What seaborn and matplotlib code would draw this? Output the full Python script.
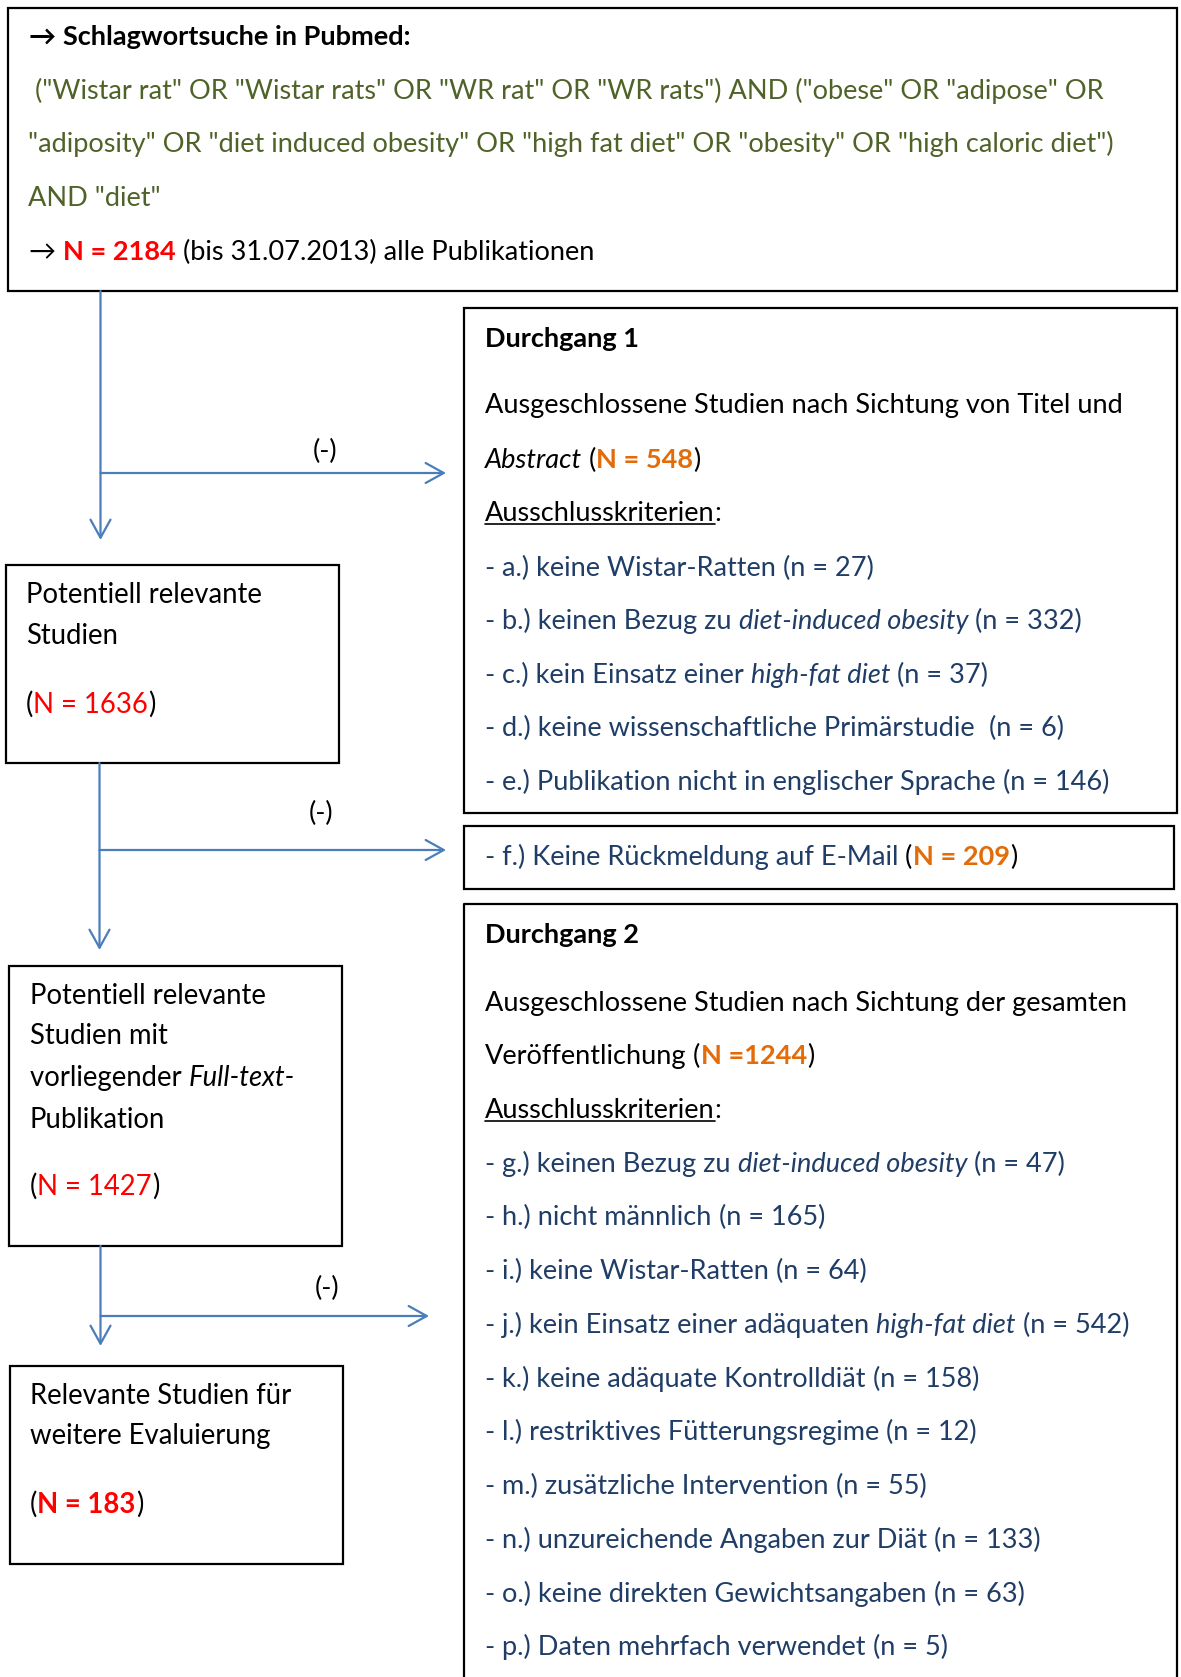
import matplotlib
matplotlib.use('Agg')
import matplotlib.pyplot as plt
import seaborn as sns
from matplotlib.patches import Rectangle

# Zahlen aus dem Flussdiagramm
n_total = 2184
n_excl_1 = 548
n_after_1 = 1636
n_no_mail = 209
n_fulltext = 1427
n_excl_2 = 1244
n_final = 183

# Suchbegriffe (Pubmed)
search_lines = [
    ' ("Wistar rat" OR "Wistar rats" OR "WR rat" OR "WR rats") AND ("obese" OR "adipose" OR',
    '"adiposity" OR "diet induced obesity" OR "high fat diet" OR "obesity" OR "high caloric diet")',
    'AND "diet"',
]

# Ausschlusskriterien Durchgang 1 (_..._ = kursiv)
crit1_labels = ['a.) keine Wistar-Ratten',
                'b.) keinen Bezug zu _diet-induced obesity_',
                'c.) kein Einsatz einer _high-fat diet_',
                'd.) keine wissenschaftliche Primärstudie ',
                'e.) Publikation nicht in englischer Sprache']
crit1_n = [27, 332, 37, 6, 146]

# Ausschlusskriterien Durchgang 2
crit2_labels = ['g.) keinen Bezug zu _diet-induced obesity_',
                'h.) nicht männlich',
                'i.) keine Wistar-Ratten',
                'j.) kein Einsatz einer adäquaten _high-fat diet_',
                'k.) keine adäquate Kontrolldiät',
                'l.) restriktives Fütterungsregime',
                'm.) zusätzliche Intervention',
                'n.) unzureichende Angaben zur Diät',
                'o.) keine direkten Gewichtsangaben',
                'p.) Daten mehrfach verwendet']
crit2_n = [47, 165, 64, 542, 158, 12, 55, 133, 63, 5]

# Farben
BLACK = '#000000'
GREEN = '#4F6228'
RED = '#FF0000'
ORANGE = '#E36C09'
NAVY = '#1F3D66'
ARROW = '#4A7EBB'

sns.set_theme(style='white')
plt.rcParams['font.family'] = ['Lato', 'DejaVu Sans']
FS = 19.5
FS_LEFT = 19.8
BASE = 9  # Abstand Zeilenmitte -> Grundlinie (px)

fig = plt.figure(figsize=(11.81, 16.77), dpi=100)
ax = fig.add_axes([0, 0, 1, 1])
ax.set_xlim(0, 1181)
ax.set_ylim(1677, 0)
ax.axis('off')
renderer = fig.canvas.get_renderer()
inv = ax.transData.inverted()


def rich_line(x, y, pieces, size=FS):
    # Textstücke auf gemeinsamer Grundlinie nebeneinander setzen
    arts = []
    for txt, color, weight, style in pieces:
        t = ax.text(x, y + BASE, txt, ha='left', va='baseline', color=color,
                    fontweight=weight, fontstyle=style, fontsize=size)
        bb = t.get_window_extent(renderer)
        x = inv.transform((bb.x1, bb.y0))[0]
        arts.append(t)
    return arts


def crit_pieces(label, n):
    pieces = [('- ', NAVY, 'normal', 'normal')]
    for i, part in enumerate(label.split('_')):
        if part:
            pieces.append((part, NAVY, 'normal', 'italic' if i % 2 else 'normal'))
    pieces.append((f' (n = {n})', NAVY, 'normal', 'normal'))
    return pieces


def box(x0, y0, x1, y1, bottom=True):
    if bottom:
        ax.add_patch(Rectangle((x0, y0), x1 - x0, y1 - y0, fill=False,
                               edgecolor='black', lw=1.6))
    else:
        ax.plot([x0, x0, x1, x1], [y1, y0, y0, y1], color='black', lw=1.6)


def arrow(x0, y0, x1, y1):
    ax.annotate('', xy=(x1, y1), xytext=(x0, y0),
                arrowprops=dict(arrowstyle='->,head_length=0.65,head_width=0.36',
                                color=ARROW, lw=1.6, shrinkA=0, shrinkB=0,
                                mutation_scale=20))


# Oberer Kasten: Schlagwortsuche
box(7.5, 7.5, 1177, 291)
rich_line(29, 36, [('→ ', BLACK, 'bold', 'normal'),
                   ('Schlagwortsuche in Pubmed:', BLACK, 'bold', 'normal')])
for y, line in zip([90, 143, 197], search_lines):
    rich_line(28, y, [(line, GREEN, 'normal', 'normal')])
rich_line(29, 251, [('→ ', BLACK, 'normal', 'normal'),
                    (f'N = {n_total}', RED, 'bold', 'normal'),
                    (' (bis 31.07.2013) alle Publikationen', BLACK, 'normal', 'normal')])

# Linke Kästen
box(5.5, 565, 339, 763)
rich_line(26, 594, [('Potentiell relevante', BLACK, 'normal', 'normal')], FS_LEFT)
rich_line(26, 635, [('Studien', BLACK, 'normal', 'normal')], FS_LEFT)
rich_line(26, 704, [('(', BLACK, 'normal', 'normal'),
                    (f'N = {n_after_1}', RED, 'normal', 'normal'),
                    (')', BLACK, 'normal', 'normal')], FS_LEFT)

box(8.5, 966, 342, 1246)
rich_line(30, 995, [('Potentiell relevante', BLACK, 'normal', 'normal')], FS_LEFT)
rich_line(30, 1035, [('Studien mit', BLACK, 'normal', 'normal')], FS_LEFT)
rich_line(30, 1077, [('vorliegender ', BLACK, 'normal', 'normal'),
                     ('Full-text-', BLACK, 'normal', 'italic')], FS_LEFT)
rich_line(30, 1119, [('Publikation', BLACK, 'normal', 'normal')], FS_LEFT)
rich_line(30, 1186, [('(', BLACK, 'normal', 'normal'),
                     (f'N = {n_fulltext}', RED, 'normal', 'normal'),
                     (')', BLACK, 'normal', 'normal')], FS_LEFT)

box(9.5, 1366, 343, 1564)
rich_line(30, 1395, [('Relevante Studien für', BLACK, 'normal', 'normal')], FS_LEFT)
rich_line(30, 1435, [('weitere Evaluierung', BLACK, 'normal', 'normal')], FS_LEFT)
rich_line(30, 1504, [('(', BLACK, 'normal', 'normal'),
                     (f'N = {n_final}', RED, 'bold', 'normal'),
                     (')', BLACK, 'normal', 'normal')], FS_LEFT)

# Pfeile
arrow(100.5, 291, 100.5, 540)
arrow(100.5, 473, 446, 473)
arrow(99.5, 763, 99.5, 950)
arrow(99.5, 850, 446, 850)
arrow(100.5, 1246, 100.5, 1346)
arrow(100.5, 1316, 429, 1316)
for x, y in [(325, 451), (321, 813), (327, 1288)]:
    ax.text(x, y, '(-)', ha='center', va='center', fontsize=FS, color=BLACK)

underlined = []

# Rechter Kasten: Durchgang 1
box(464, 308, 1177, 813)
rich_line(485, 338, [('Durchgang 1', BLACK, 'bold', 'normal')])
rich_line(485, 404, [('Ausgeschlossene Studien nach Sichtung von Titel und', BLACK, 'normal', 'normal')])
rich_line(485, 459, [('Abstract', BLACK, 'normal', 'italic'),
                     (' (', BLACK, 'normal', 'normal'),
                     (f'N = {n_excl_1}', ORANGE, 'bold', 'normal'),
                     (')', BLACK, 'normal', 'normal')])
underlined.append(rich_line(485, 512, [('Ausschlusskriterien', BLACK, 'normal', 'normal'),
                                       (':', BLACK, 'normal', 'normal')])[0])
for y, lab, n in zip([567, 620, 674, 727, 781], crit1_labels, crit1_n):
    rich_line(485, y, crit_pieces(lab, n))

# Kasten f.)
box(464, 826, 1174, 889)
rich_line(485, 856, [('- f.) Keine Rückmeldung auf E-Mail', NAVY, 'normal', 'normal'),
                     (' (', BLACK, 'normal', 'normal'),
                     (f'N = {n_no_mail}', ORANGE, 'bold', 'normal'),
                     (')', BLACK, 'normal', 'normal')])

# Rechter Kasten: Durchgang 2 (unten abgeschnitten)
box(464, 904, 1177, 1690, bottom=False)
rich_line(485, 934, [('Durchgang 2', BLACK, 'bold', 'normal')])
rich_line(485, 1002, [('Ausgeschlossene Studien nach Sichtung der gesamten', BLACK, 'normal', 'normal')])
rich_line(485, 1055, [('Veröffentlichung', BLACK, 'normal', 'normal'),
                      (' (', BLACK, 'normal', 'normal'),
                      (f'N ={n_excl_2}', ORANGE, 'bold', 'normal'),
                      (')', BLACK, 'normal', 'normal')])
underlined.append(rich_line(485, 1109, [('Ausschlusskriterien', BLACK, 'normal', 'normal'),
                                        (':', BLACK, 'normal', 'normal')])[0])
y2 = [1163, 1216, 1270, 1324, 1378, 1431, 1485, 1539, 1593, 1646]
for y, lab, n in zip(y2, crit2_labels, crit2_n):
    rich_line(485, y, crit_pieces(lab, n))

# Unterstreichung knapp unter der Grundlinie
for t in underlined:
    bb = t.get_window_extent(renderer)
    x0, x1 = inv.transform([(bb.x0, 0), (bb.x1, 0)])[:, 0]
    yb = t.get_position()[1] + 3
    ax.plot([x0, x1], [yb, yb], color=BLACK, lw=1.2)

fig.savefig('out.png', dpi=100)
